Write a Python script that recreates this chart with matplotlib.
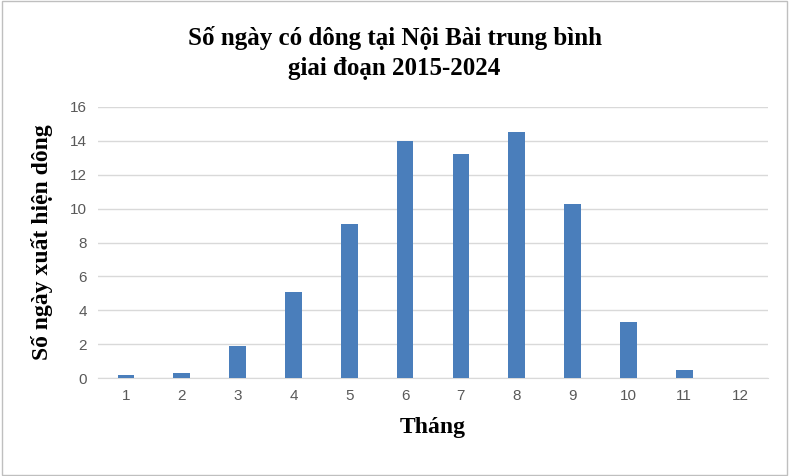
import matplotlib
matplotlib.use("Agg")
import matplotlib.pyplot as plt

months = ["1","2","3","4","5","6","7","8","9","10","11","12"]
days = [0.2, 0.3, 1.9, 5.1, 9.1, 14.0, 13.2, 14.5, 10.3, 3.3, 0.5, 0.0]
yticks = [0, 2, 4, 6, 8, 10, 12, 14, 16]

fig = plt.figure(figsize=(7.89, 4.76), dpi=100)
ax = fig.add_axes([98/789, 1-378/476, 670/789, 271/476])
x = range(len(months))
ax.bar(x, days, width=0.3, color="#4a7ebb", zorder=3)
ax.set_xlim(-0.5, len(months)-0.5)
ax.set_ylim(0, 16)
ax.set_yticks(yticks)
ax.set_xticks(list(x))
ax.set_xticklabels(months)
ax.grid(axis="y", color="#d9d9d9", linewidth=1, zorder=0)
for s in ["top", "right", "left"]:
    ax.spines[s].set_visible(False)
ax.spines["bottom"].set_color("#d9d9d9")
ax.tick_params(length=0, labelsize=11, colors="#595959", pad=8)
for t in ax.get_xticklabels() + ax.get_yticklabels():
    t.set_fontfamily("Liberation Sans")
ax.set_xlabel("Tháng", fontsize=17, fontweight="bold", family="Liberation Serif", labelpad=10)
ax.set_ylabel("Số ngày xuất hiện dông", fontsize=17, fontweight="bold", family="Liberation Serif", labelpad=12)
fig.text(0.5, 1-53/476, "Số ngày có dông tại Nội Bài trung bình\ngiai đoạn 2015-2024", ha="center", va="center",
         fontsize=18, fontweight="bold", family="Liberation Serif", linespacing=1.4)
fig.patches.append(plt.Rectangle((0.002, 0.002), 0.996, 0.996, transform=fig.transFigure,
                                 fill=False, edgecolor="#bfbfbf", linewidth=1))
fig.savefig("out.png", dpi=100)
